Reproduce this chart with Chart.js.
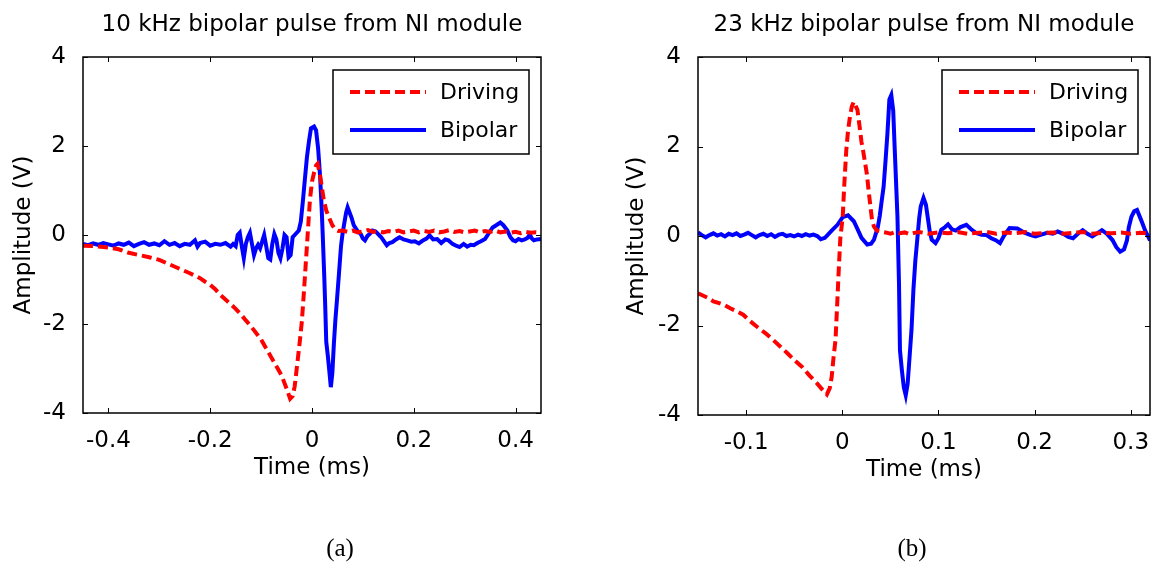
<!DOCTYPE html>
<html>
<head>
<meta charset="utf-8">
<script src="https://cdn.jsdelivr.net/npm/chart.js@4.4.0/dist/chart.umd.min.js"></script>
<style>
  html, body { margin: 0; padding: 0; background: #fff; }
  #page { position: relative; width: 1160px; height: 571px; overflow: hidden; }
  .panel { position: absolute; top: 0; width: 580px; height: 571px; }
  .caption { position: absolute; top: 534px; width: 60px; margin-left: -30px; text-align: center;
             font-family: "Liberation Serif", "Times New Roman", serif; font-size: 25px; color: #000; }
</style>
</head>
<body>
<div id="page">
  <div class="panel" style="left:0"><canvas id="chart-a" width="580" height="571"></canvas></div>
  <div class="panel" style="left:580px"><canvas id="chart-b" width="580" height="571"></canvas></div>
  <div class="caption" style="left:340px">(a)</div>
  <div class="caption" style="left:912px">(b)</div>
</div>
<script>
// Panel (a): 10 kHz
const drivingTimeA = [-0.45, -0.43, -0.41, -0.40, -0.38, -0.36, -0.34, -0.32, -0.30, -0.28, -0.26, -0.24, -0.22, -0.21, -0.20,
  -0.19, -0.18, -0.17, -0.16, -0.15, -0.14, -0.13, -0.12, -0.11, -0.10, -0.09, -0.08, -0.07, -0.06, -0.05, -0.043, -0.038,
  -0.034, -0.030, -0.025, -0.020, -0.016, -0.012, -0.008, -0.004, 0.000, 0.004, 0.008, 0.011, 0.015, 0.019, 0.023, 0.028,
  0.034, 0.040, 0.046, 0.052, 0.06, 0.07, 0.08, 0.09, 0.10, 0.11, 0.12, 0.13, 0.14, 0.15, 0.16, 0.17, 0.18, 0.19, 0.20,
  0.21, 0.22, 0.23, 0.24, 0.25, 0.26, 0.27, 0.28, 0.29, 0.30, 0.31, 0.32, 0.33, 0.34, 0.35, 0.36, 0.37, 0.38, 0.39, 0.40,
  0.41, 0.42, 0.43, 0.44, 0.45];
const drivingA = [-0.24, -0.25, -0.27, -0.28, -0.32, -0.40, -0.45, -0.50, -0.56, -0.66, -0.76, -0.86, -0.97, -1.05, -1.12,
  -1.22, -1.35, -1.45, -1.55, -1.66, -1.78, -1.92, -2.05, -2.20, -2.35, -2.55, -2.75, -2.95, -3.15, -3.45, -3.68, -3.62,
  -3.40, -3.00, -2.50, -1.95, -1.30, -0.60, 0.10, 0.80, 1.20, 1.40, 1.56, 1.60, 1.40, 1.10, 0.80, 0.55,
  0.38, 0.22, 0.12, 0.09, 0.10, 0.07, 0.10, 0.06, 0.08, 0.11, 0.07, 0.09, 0.06, 0.09, 0.07, 0.10, 0.06, 0.08, 0.10,
  0.06, 0.09, 0.07, 0.10, 0.06, 0.08, 0.11, 0.07, 0.09, 0.06, 0.08, 0.10, 0.06, 0.09, 0.07, 0.10, 0.06, 0.08, 0.05, 0.07,
  0.04, 0.07, 0.05, 0.06, 0.05];
const bipolarTimeA = [-0.45, -0.44, -0.43, -0.42, -0.41, -0.40, -0.39, -0.38, -0.37, -0.36, -0.35, -0.34, -0.33, -0.32,
  -0.31, -0.30, -0.29, -0.28, -0.27, -0.26, -0.25, -0.24, -0.23, -0.225, -0.22, -0.21, -0.20, -0.19, -0.18, -0.17, -0.16,
  -0.155, -0.150, -0.146, -0.142, -0.138, -0.134, -0.130, -0.126, -0.122, -0.118, -0.114, -0.110, -0.106, -0.102, -0.098,
  -0.094, -0.090, -0.086, -0.082, -0.078, -0.074, -0.070, -0.066, -0.062, -0.058, -0.054, -0.050, -0.046, -0.042, -0.038,
  -0.034, -0.030, -0.026, -0.022, -0.018, -0.014, -0.010, -0.006, -0.002, 0.004, 0.008, 0.012, 0.016, 0.019, 0.021, 0.024,
  0.026, 0.028, 0.031, 0.034, 0.037, 0.040, 0.043, 0.046, 0.049, 0.053, 0.057, 0.060, 0.064, 0.067, 0.070, 0.074, 0.078,
  0.082, 0.086, 0.090, 0.096, 0.100, 0.104, 0.109, 0.114, 0.119, 0.125, 0.130, 0.136, 0.142, 0.147, 0.152, 0.158, 0.165,
  0.172, 0.180, 0.187, 0.195, 0.202, 0.210, 0.218, 0.225, 0.231, 0.238, 0.246, 0.254, 0.262, 0.268, 0.276, 0.283, 0.290,
  0.298, 0.305, 0.312, 0.318, 0.325, 0.332, 0.340, 0.348, 0.355, 0.362, 0.370, 0.376, 0.384, 0.390, 0.395, 0.400, 0.406,
  0.412, 0.418, 0.424, 0.428, 0.432, 0.436, 0.442, 0.450];
const bipolarA = [-0.20, -0.23, -0.19, -0.22, -0.18, -0.21, -0.24, -0.19, -0.22, -0.17, -0.25, -0.20, -0.16, -0.22,
  -0.19, -0.23, -0.14, -0.22, -0.18, -0.25, -0.20, -0.22, -0.12, -0.26, -0.18, -0.15, -0.24, -0.20, -0.22, -0.18, -0.26,
  -0.20, -0.25, 0.00, 0.05, -0.25, -0.52, -0.20, -0.05, 0.05, -0.20, -0.45, -0.30, -0.22, -0.30, -0.15,
  0.00, -0.25, -0.52, -0.55, -0.20, 0.02, -0.10, -0.40, -0.52, -0.30, 0.00, -0.05, -0.50, -0.45, -0.05,
  0.00, 0.05, 0.10, 0.30, 0.75, 1.25, 1.74, 2.10, 2.40, 2.44, 2.35, 1.95, 1.30, 0.60, 0.03, -0.90,
  -1.60, -2.40, -2.70, -3.05, -3.42, -3.10, -2.44, -1.90, -1.47, -0.87, -0.25, 0.03, 0.30, 0.50, 0.62, 0.50, 0.38,
  0.22, 0.15, 0.08, 0.02, -0.08, -0.12, -0.02, 0.03, 0.10, 0.08, 0.02, -0.05, -0.15, -0.23, -0.18, -0.16, -0.10,
  -0.05, -0.10, -0.12, -0.15, -0.14, -0.19, -0.12, -0.08, -0.01, -0.10, -0.09, -0.18, -0.10, -0.12, -0.20, -0.24, -0.27,
  -0.20, -0.26, -0.22, -0.23, -0.18, -0.14, -0.09, 0.05, 0.17, 0.22, 0.28, 0.22, 0.10, -0.05, -0.12, -0.14, -0.09,
  -0.12, -0.10, -0.06, 0.01, -0.08, -0.12, -0.10, -0.09];
const xTicksA = [-0.4, -0.2, 0, 0.2, 0.4];

// Panel (b): 23 kHz
const drivingTimeB = [-0.150, -0.145, -0.140, -0.134, -0.128, -0.122, -0.116, -0.110, -0.103, -0.096, -0.088, -0.080,
  -0.072, -0.064, -0.057, -0.050, -0.042, -0.034, -0.026, -0.020, -0.016, -0.013, -0.011, -0.009, -0.007, -0.005, -0.0035,
  -0.002, 0.0005, 0.002, 0.0042, 0.006, 0.008, 0.010, 0.012, 0.014, 0.0158, 0.018, 0.020, 0.0216, 0.024, 0.0255, 0.0275,
  0.0293, 0.031, 0.033, 0.036, 0.039, 0.045, 0.050, 0.055, 0.060, 0.065, 0.070, 0.075, 0.080, 0.090, 0.100, 0.110, 0.120,
  0.130, 0.140, 0.150, 0.160, 0.170, 0.180, 0.190, 0.200, 0.210, 0.220, 0.230, 0.240, 0.250, 0.260, 0.270, 0.280, 0.290,
  0.300, 0.310, 0.320];
const drivingB = [-1.28, -1.33, -1.38, -1.46, -1.50, -1.55, -1.62, -1.68, -1.76, -1.90, -2.04, -2.17,
  -2.32, -2.48, -2.62, -2.77, -2.92, -3.12, -3.30, -3.45, -3.54, -3.40, -3.15, -2.70, -2.32, -1.40, -0.69,
  -0.05, 0.43, 1.10, 1.92, 2.35, 2.67, 2.90, 3.00, 2.90, 2.82, 2.45, 2.10, 1.92, 1.60, 1.40, 1.00,
  0.66, 0.35, 0.21, 0.12, 0.10, 0.08, 0.05, 0.09, 0.06, 0.08, 0.04, 0.07, 0.09, 0.05, 0.08, 0.06, 0.09,
  0.05, 0.07, 0.09, 0.05, 0.08, 0.06, 0.09, 0.05, 0.07, 0.08, 0.05, 0.07, 0.09, 0.05, 0.07, 0.06, 0.08,
  0.05, 0.07, 0.06];
const bipolarTimeB = [-0.150, -0.146, -0.142, -0.138, -0.134, -0.130, -0.126, -0.122, -0.118, -0.114, -0.110, -0.106,
  -0.102, -0.098, -0.094, -0.090, -0.086, -0.082, -0.078, -0.074, -0.070, -0.066, -0.062, -0.058, -0.054, -0.050, -0.046,
  -0.042, -0.038, -0.034, -0.030, -0.026, -0.0223, -0.018, -0.011, -0.005, 0.0005, 0.006, 0.012, 0.016, 0.020, 0.026,
  0.030, 0.033, 0.037, 0.039, 0.041, 0.043, 0.045, 0.047, 0.049, 0.051, 0.053, 0.0546, 0.0574, 0.059, 0.060, 0.062, 0.064,
  0.066, 0.068, 0.070, 0.072, 0.074, 0.076, 0.078, 0.080, 0.0816, 0.0845, 0.087, 0.089, 0.091, 0.093, 0.097, 0.100, 0.103,
  0.107, 0.110, 0.114, 0.118, 0.123, 0.129, 0.134, 0.139, 0.145, 0.150, 0.155, 0.160, 0.164, 0.168, 0.174, 0.182, 0.190,
  0.196, 0.201, 0.207, 0.213, 0.219, 0.224, 0.230, 0.235, 0.240, 0.245, 0.250, 0.255, 0.260, 0.265, 0.270, 0.275, 0.281,
  0.285, 0.289, 0.293, 0.296, 0.298, 0.3007, 0.3035, 0.3065, 0.309, 0.312, 0.315, 0.318, 0.320];
const bipolarB = [0.08, 0.02, -0.03, 0.02, 0.06, 0.01, 0.04, -0.01, 0.05, 0.02, 0.06, 0.00,
  0.03, 0.07, 0.02, -0.03, 0.02, 0.05, 0.00, 0.04, -0.02, 0.03, 0.05, 0.00, 0.02, -0.01, 0.03,
  0.00, 0.04, 0.01, 0.03, 0.00, -0.07, -0.04, 0.12, 0.25, 0.42, 0.46, 0.33, 0.15, -0.04, -0.19,
  -0.17, -0.08, 0.20, 0.45, 0.78, 1.10, 1.68, 2.30, 3.05, 3.15, 2.80, 1.92, 0.43, -1.06, -2.55, -3.00, -3.38,
  -3.56, -3.30, -2.70, -2.10, -1.20, -0.55, -0.08, 0.40, 0.66, 0.85, 0.70, 0.40, 0.10, -0.08, -0.16, -0.05, 0.14,
  0.20, 0.26, 0.15, 0.12, 0.20, 0.25, 0.15, 0.07, 0.03, 0.02, -0.05, -0.10, -0.16, 0.00, 0.18, 0.17, 0.07,
  0.02, -0.01, 0.03, 0.07, 0.05, 0.10, 0.05, -0.02, -0.05, 0.05, 0.13, 0.05, -0.01, 0.06, 0.13, 0.05, -0.09,
  -0.25, -0.35, -0.30, -0.10, 0.20, 0.43, 0.55, 0.58, 0.45, 0.29, 0.12, -0.01, -0.10];
const xTicksB = [-0.1, 0, 0.1, 0.2, 0.3];

const yTicks = [-4, -2, 0, 2, 4];
const seriesLabels = ['Driving', 'Bipolar'];

const FONT = '"DejaVu Sans", Arial, sans-serif';
const RED = '#ff0000';
const BLUE = '#0000ff';

function pairs(xs, ys) {
  return xs.map((x, i) => ({ x: x, y: ys[i] }));
}

// MATLAB style box with inward ticks on all four sides
const boxTicks = {
  id: 'boxTicks',
  afterDatasetsDraw(chart) {
    const { ctx, chartArea: a, scales } = chart;
    const len = 5;
    ctx.save();
    ctx.strokeStyle = '#000';
    ctx.lineWidth = 1;
    ctx.beginPath();
    scales.x.ticks.forEach(t => {
      const px = Math.round(scales.x.getPixelForValue(t.value)) + 0.5;
      ctx.moveTo(px, a.bottom); ctx.lineTo(px, a.bottom - len);
      ctx.moveTo(px, a.top); ctx.lineTo(px, a.top + len);
    });
    scales.y.ticks.forEach(t => {
      const py = Math.round(scales.y.getPixelForValue(t.value)) + 0.5;
      ctx.moveTo(a.left, py); ctx.lineTo(a.left + len, py);
      ctx.moveTo(a.right, py); ctx.lineTo(a.right - len, py);
    });
    ctx.stroke();
    ctx.lineWidth = 1.5;
    ctx.strokeRect(a.left, a.top, a.right - a.left, a.bottom - a.top);
    ctx.restore();
  }
};

// legend box drawn inside the top right of the plot area
const insideLegend = {
  id: 'insideLegend',
  afterDraw(chart) {
    const { ctx, chartArea: a } = chart;
    const w = 196, h = 84;
    const left = a.right - 12 - w, top = a.top + 13;
    ctx.save();
    ctx.fillStyle = '#fff';
    ctx.fillRect(left, top, w, h);
    ctx.strokeStyle = '#000';
    ctx.lineWidth = 1.5;
    ctx.strokeRect(left, top, w, h);
    chart.data.datasets.forEach((ds, i) => {
      const y = top + 22 + i * 38;
      ctx.strokeStyle = ds.borderColor;
      ctx.lineWidth = ds.borderWidth;
      ctx.setLineDash(ds.borderDash || []);
      ctx.beginPath();
      ctx.moveTo(left + 17, y);
      ctx.lineTo(left + 93, y);
      ctx.stroke();
      ctx.setLineDash([]);
      ctx.fillStyle = '#000';
      ctx.font = '22px ' + FONT;
      ctx.textBaseline = 'middle';
      ctx.fillText(ds.label, left + 107, y + 1);
    });
    ctx.restore();
  }
};

function makeChart(id, cfg) {
  const tickFont = { family: FONT, size: 23 };
  return new Chart(document.getElementById(id), {
    type: 'line',
    data: {
      datasets: [
        { label: seriesLabels[0], data: pairs(cfg.dTime, cfg.driving), borderColor: RED, borderWidth: 4,
          borderDash: [10, 5], pointRadius: 0, tension: 0 },
        { label: seriesLabels[1], data: pairs(cfg.bTime, cfg.bipolar), borderColor: BLUE, borderWidth: 4,
          pointRadius: 0, tension: 0 }
      ]
    },
    options: {
      responsive: false,
      animation: false,
      layout: { padding: { left: cfg.padLeft, right: cfg.padRight, top: 0, bottom: cfg.padBottom } },
      plugins: {
        legend: { display: false },
        tooltip: { enabled: false },
        title: {
          display: true,
          text: cfg.title,
          fullSize: false,
          color: '#000',
          font: { family: FONT, size: 23, weight: 'normal' },
          padding: { top: 11.7, bottom: 17.7 }
        }
      },
      scales: {
        x: {
          type: 'linear',
          min: cfg.xMin,
          max: cfg.xMax,
          grid: { display: false },
          border: { display: false },
          afterBuildTicks: s => { s.ticks = cfg.xTicks.map(v => ({ value: v })); },
          afterFit: s => { s.height = 70; },
          ticks: { color: '#000', font: tickFont, padding: 6, maxRotation: 0, callback: v => String(v) },
          title: { display: true, text: 'Time (ms)', color: '#000', font: tickFont, padding: { top: 0, bottom: 1 } }
        },
        y: {
          min: -4,
          max: 4,
          grid: { display: false },
          border: { display: false },
          afterBuildTicks: s => { s.ticks = yTicks.map(v => ({ value: v })); },
          afterFit: s => { s.width = cfg.yWidth; },
          ticks: { color: '#000', font: tickFont, padding: 9, callback: v => String(v) },
          title: { display: true, text: 'Amplitude (V)', color: '#000', font: tickFont, padding: { top: 10, bottom: 0 } }
        }
      }
    },
    plugins: [boxTicks, insideLegend]
  });
}

makeChart('chart-a', {
  title: '10 kHz bipolar pulse from NI module',
  dTime: drivingTimeA, driving: drivingA, bTime: bipolarTimeA, bipolar: bipolarA,
  xMin: -0.45, xMax: 0.45, xTicks: xTicksA,
  padLeft: 0, yWidth: 83, padRight: 39, padBottom: 88
});

makeChart('chart-b', {
  title: '23 kHz bipolar pulse from NI module',
  dTime: drivingTimeB, driving: drivingB, bTime: bipolarTimeB, bipolar: bipolarB,
  xMin: -0.15, xMax: 0.32, xTicks: xTicksB,
  padLeft: 33, yWidth: 85, padRight: 10, padBottom: 86
});
</script>
</body>
</html>
